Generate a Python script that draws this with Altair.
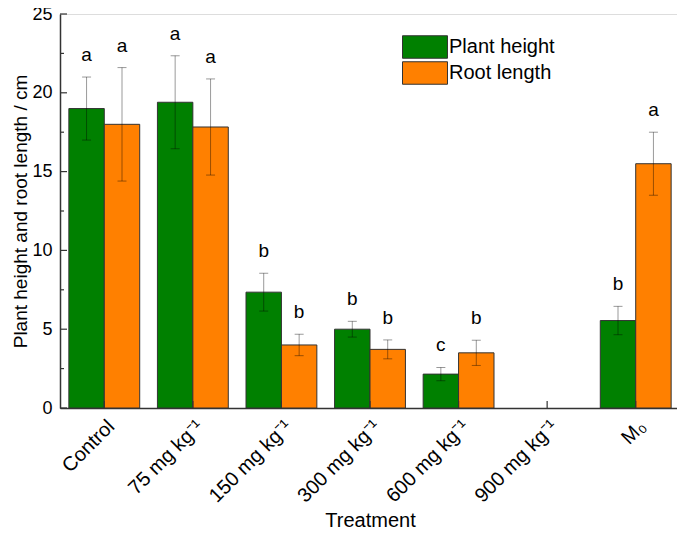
import altair as alt
import pandas as pd

treatments = ["Control", "75 mg kg⁻¹", "150 mg kg⁻¹", "300 mg kg⁻¹", "600 mg kg⁻¹", "900 mg kg⁻¹", "M₀"]
series = ["Plant height", "Root length"]
colors = ["#008000", "#ff8000"]

plant_height = [19.0, 19.4, 7.35, 5.0, 2.15, None, 5.55]
plant_height_err = [2.0, 2.95, 1.2, 0.5, 0.42, None, 0.9]
plant_height_letters = ["a", "a", "b", "b", "c", "", "b"]

root_length = [18.0, 17.83, 4.0, 3.72, 3.5, None, 15.5]
root_length_err = [3.6, 3.05, 0.68, 0.6, 0.8, None, 2.0]
root_length_letters = ["a", "a", "b", "b", "b", "", "a"]

y_major = [0, 5, 10, 15, 20, 25]
y_minor = [2.5, 7.5, 12.5, 17.5, 22.5]

rows = []
for s, vals, errs, lets in [
    (series[0], plant_height, plant_height_err, plant_height_letters),
    (series[1], root_length, root_length_err, root_length_letters),
]:
    for t, v, e, l in zip(treatments, vals, errs, lets):
        if v is None:
            continue
        rows.append({"treatment": t, "series": s, "value": v,
                     "lo": v - e, "hi": v + e, "letter": l})
df = pd.DataFrame(rows)

W, H = 620, 394
PAD_L, PAD_T = 52, 6
PAD_B = 538 - 16 - PAD_T - H
PAD_R = 685 - 16 - PAD_L - W
FONT = "Liberation Sans"

xscale = alt.Scale(domain=treatments, paddingInner=0.2, paddingOuter=0.1)
yscale = alt.Scale(domain=[0, 25], nice=False)
xo = alt.XOffset("series:N", scale=alt.Scale(domain=series))

x_enc = alt.X("treatment:N", scale=xscale, sort=treatments,
              axis=alt.Axis(title="Treatment", labelAngle=-45, labelFontSize=20,
                            titleFontSize=20, titleFontWeight="normal",
                            ticks=False, labelPadding=8, titlePadding=5,
                            domainColor="#333", domainWidth=1.5,
                            labelColor="black", titleColor="black"))
y_enc = alt.Y("value:Q", scale=yscale,
              axis=alt.Axis(title="Plant height and root length / cm",
                            values=y_major, ticks=False, labelPadding=8,
                            labelFontSize=18, titleFontSize=19,
                            titleFontWeight="normal", titlePadding=1,
                            domainColor="#333", domainWidth=1.5, grid=False,
                            labelColor="black", titleColor="black"))

bars = alt.Chart(df).mark_bar(stroke="#333", strokeWidth=1).encode(
    x=x_enc, xOffset=xo, y=y_enc,
    color=alt.Color("series:N", scale=alt.Scale(domain=series, range=colors),
                    legend=alt.Legend(title=None, orient="none", legendX=353, legendY=21,
                                      symbolType="M-2,-1H2V1H-2Z", symbolSize=506,
                                      symbolStrokeColor="#333", symbolStrokeWidth=1,
                                      symbolOpacity=1,
                                      labelFontSize=20, labelColor="black",
                                      labelOffset=12, rowPadding=-4, padding=0)),
)

err = alt.Chart(df).mark_rule(color="black", opacity=0.4, strokeWidth=1).encode(
    x="treatment:N", xOffset=xo, y="lo:Q", y2="hi:Q")
caps_hi = alt.Chart(df).mark_tick(color="black", opacity=0.4, thickness=1, size=9).encode(
    x="treatment:N", xOffset=xo, y="hi:Q")
caps_lo = alt.Chart(df).mark_tick(color="black", opacity=0.4, thickness=1, size=9).encode(
    x="treatment:N", xOffset=xo, y="lo:Q")
letters = alt.Chart(df).mark_text(baseline="bottom", dy=-12, fontSize=19, font=FONT,
                                  color="black").encode(
    x="treatment:N", xOffset=xo, y="hi:Q", text="letter:N")

ymaj = alt.Chart(pd.DataFrame({"v": y_major})).mark_rule(color="#333", strokeWidth=1.2).encode(
    x=alt.value(0), x2=alt.value(7), y=alt.Y("v:Q", scale=yscale))
ymin = alt.Chart(pd.DataFrame({"v": y_minor})).mark_rule(color="#333", strokeWidth=1.2).encode(
    x=alt.value(0), x2=alt.value(4), y=alt.Y("v:Q", scale=yscale))
xt = alt.Chart(pd.DataFrame({"t": treatments})).mark_rule(color="#333", strokeWidth=1.2).encode(
    x=alt.X("t:N", scale=xscale), y=alt.value(H), y2=alt.value(H - 7))

chart = alt.layer(bars, err, caps_hi, caps_lo, letters, ymaj, ymin, xt).properties(
    width=W, height=H,
    autosize=alt.AutoSizeParams(type="none"),
    padding={"left": PAD_L, "top": PAD_T, "right": PAD_R, "bottom": PAD_B},
).configure_view(stroke=None).configure(font=FONT)

chart.save("out.html", embed_options={"renderer": "svg", "actions": False})
